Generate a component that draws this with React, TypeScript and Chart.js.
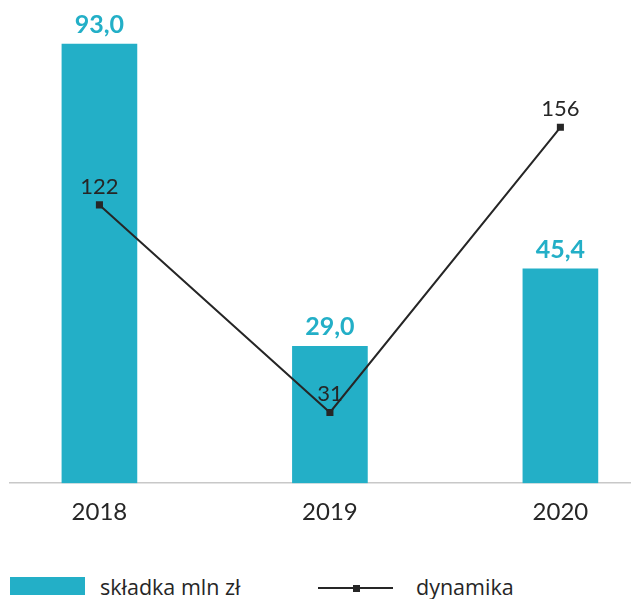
import React, { useEffect, useRef } from "react";
import { Chart, registerables } from "chart.js";

Chart.register(...registerables);

const years = ["2018", "2019", "2020"];
const premium = [93.0, 29.0, 45.4];
const dynamics = [122, 31, 156];
const premiumLabel = "składka mln zł";
const dynamicsLabel = "dynamika";

const TEAL = "#23AFC7";
const DARK = "#262626";
const FONT = "Lato, 'Open Sans', sans-serif";
const LEGEND_FONT = "'Open Sans', Lato, sans-serif";

const valueLabels = {
  id: "valueLabels",
  afterDatasetsDraw(chart: any) {
    const ctx = chart.ctx;
    ctx.save();
    chart.data.datasets.forEach((ds: any, di: number) => {
      const meta = chart.getDatasetMeta(di);
      meta.data.forEach((el: any, i: number) => {
        const v = ds.data[i].y;
        ctx.textAlign = "center";
        ctx.textBaseline = "alphabetic";
        if (ds.type === "bar") {
          ctx.font = `bold 25px ${FONT}`;
          ctx.fillStyle = TEAL;
          ctx.fillText(v.toFixed(1).replace(".", ","), el.x, el.y - 11);
        } else {
          ctx.font = `22px ${FONT}`;
          ctx.fillStyle = DARK;
          ctx.fillText(String(v), el.x, el.y - 11);
        }
      });
    });
    ctx.restore();
  },
};

export default function App() {
  const ref = useRef<HTMLCanvasElement | null>(null);
  useEffect(() => {
    if (!ref.current) return;
    const chart = new Chart(ref.current, {
      type: "bar",
      data: {
        datasets: [
          {
            type: "line",
            label: dynamicsLabel,
            data: dynamics.map((v, i) => ({ x: i, y: v })),
            yAxisID: "y1",
            borderColor: DARK,
            borderWidth: 2,
            pointStyle: "rect",
            pointRadius: 5,
            pointBackgroundColor: DARK,
            pointBorderColor: DARK,
            pointBorderWidth: 0,
            order: 0,
          } as any,
          {
            type: "bar",
            label: premiumLabel,
            data: premium.map((v, i) => ({ x: i, y: v })),
            yAxisID: "y",
            backgroundColor: TEAL,
            barThickness: 75,
            order: 1,
          } as any,
        ],
      },
      options: {
        animation: false,
        responsive: false,
        maintainAspectRatio: false,
        layout: { padding: { top: 11, left: 10, right: 0, bottom: 3 } },
        plugins: { legend: { display: false }, tooltip: { enabled: false } },
        scales: {
          x: {
            type: "linear",
            offset: false,
            min: -0.388,
            max: 2.302,
            grid: { display: false, drawTicks: false, offset: false },
            border: { display: true, color: "#c8c8c8", width: 1.5 },
            ticks: {
              stepSize: 1,
              includeBounds: false,
              padding: 15,
              color: DARK,
              font: { family: FONT, size: 24 },
              callback: (v: any) => (Number.isInteger(v) ? years[v] ?? "" : ""),
            },
          },
          y: { display: false, min: 0, max: 100 },
          y1: { display: false, min: 0, max: 207, position: "right" },
        },
      } as any,
      plugins: [valueLabels],
    });
    return () => chart.destroy();
  }, []);

  return (
    <div style={{ position: "absolute", left: 0, top: 0, width: 635, height: 599 }}>
      <canvas ref={ref} width={635} height={545} style={{ position: "absolute", left: 0, top: 0 }} />
      <div style={{ position: "absolute", left: 10, top: 577, width: 75, height: 18, background: TEAL }} />
      <div style={{ position: "absolute", left: 100, top: 573, fontFamily: LEGEND_FONT, fontSize: 21.5, lineHeight: "28px", color: DARK, whiteSpace: "nowrap" }}>
        {premiumLabel}
      </div>
      <div style={{ position: "absolute", left: 318, top: 587, width: 75, height: 2, background: DARK }} />
      <div style={{ position: "absolute", left: 353, top: 584.5, width: 7, height: 7, background: DARK }} />
      <div style={{ position: "absolute", left: 416, top: 573, fontFamily: LEGEND_FONT, fontSize: 21.5, lineHeight: "28px", color: DARK, whiteSpace: "nowrap" }}>
        {dynamicsLabel}
      </div>
    </div>
  );
}
